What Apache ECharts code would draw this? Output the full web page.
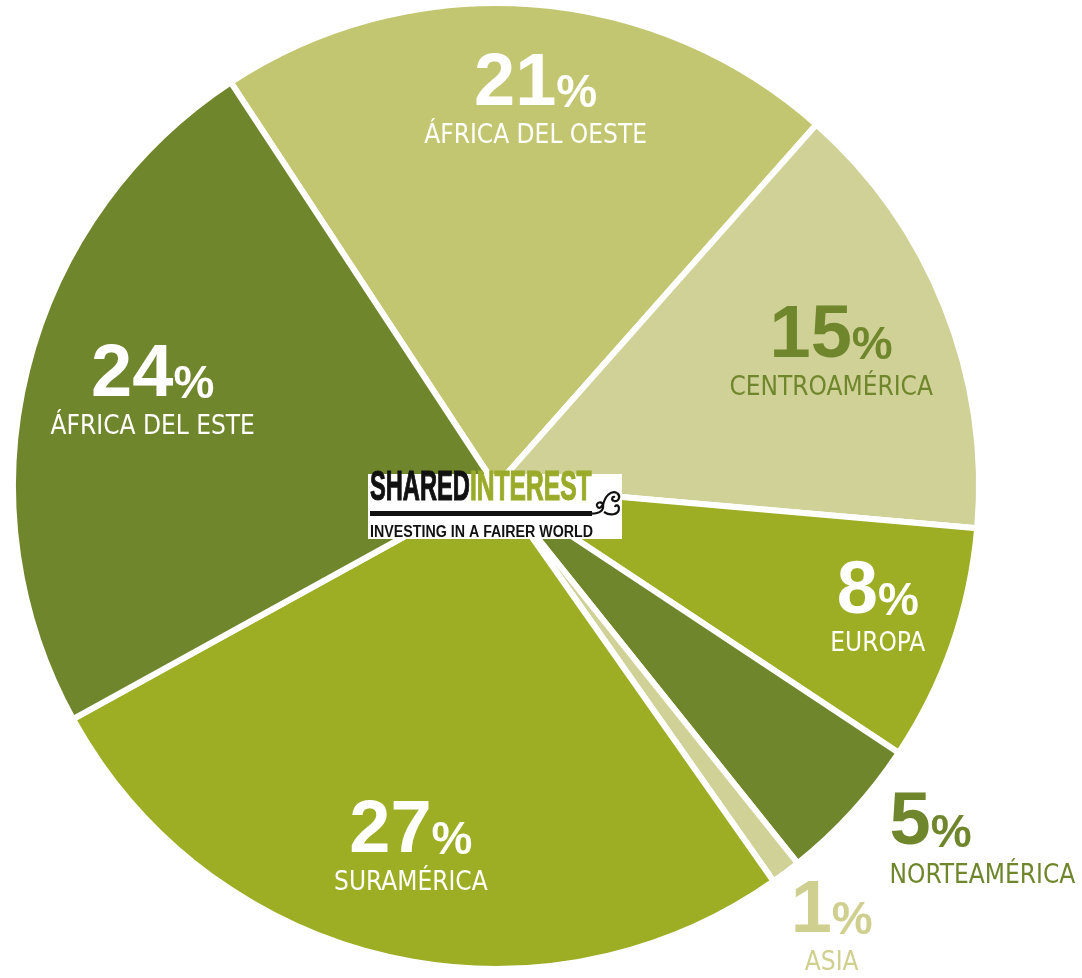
<!DOCTYPE html>
<html>
<head>
<meta charset="utf-8">
<script src="https://cdn.jsdelivr.net/npm/echarts@6/dist/echarts.min.js"></script>
<style>
html,body{margin:0;padding:0;background:#ffffff;}
#chart{width:1082px;height:978px;}
</style>
</head>
<body>
<div id="chart"></div>
<script>
// ---- data (clockwise from the top-left boundary) ----
const regions = ['ÁFRICA DEL OESTE', 'CENTROAMÉRICA', 'EUROPA', 'NORTEAMÉRICA', 'ASIA', 'SURAMÉRICA', 'ÁFRICA DEL ESTE'];
const shares = [21, 15, 8, 5, 1, 27, 24];

// ---- styling ----
const NUMFONT = "'Liberation Sans','Arial',sans-serif";
const NAMEFONT = "'DejaVu Sans Condensed','Liberation Sans',sans-serif";
const DARK = '#6f862c', MID = '#9dad24', LIGHT = '#c3c670', PALE = '#d0d196';
const sliceColor = [LIGHT, PALE, MID, DARK, PALE, MID, DARK];
const textColor = ['#ffffff', DARK, '#ffffff', DARK, '#cfd08f', '#ffffff', '#ffffff'];
const leftAligned = [false, false, false, true, false, false, false];
// label shifts away from the default inside position
const labelShift = [[22, -143], [108, -44], [151, 41], [306, 188], [189, 245], [-30, 122], [-106, -37]];

const chart = echarts.init(document.getElementById('chart'), null, {renderer: 'canvas'});

const seriesData = regions.map((name, i) => ({
  name: name,
  value: shares[i],
  itemStyle: {color: sliceColor[i]},
  label: {color: textColor[i]}
}));

function richSet(align) {
  return {
    num: {fontFamily: NUMFONT, fontSize: 74, fontWeight: 'bold', verticalAlign: 'bottom', align: align},
    pct: {fontFamily: NUMFONT, fontSize: 46, fontWeight: 'bold', verticalAlign: 'bottom', padding: [0, 0, 4, 0], align: align},
    name: {fontFamily: NAMEFONT, fontSize: 26, lineHeight: 30, align: align}
  };
}
const rc = richSet('center'), rl = richSet('left');
const rich = {num: rc.num, pct: rc.pct, name: rc.name, numL: rl.num, pctL: rl.pct, nameL: rl.name};

// logo flourish as cubic segments [x1,y1,cx1,cy1,cx2,cy2,x2,y2] (logo-local)
const swirl = [
  [222, 39.5, 232, 40, 236, 36, 235, 31],
  [235, 31, 234, 27, 228, 28, 229, 32],
  [229, 32, 230, 35, 234, 34, 234, 31],
  [235, 31, 237, 22, 243, 16, 249, 19],
  [249, 19, 253, 22, 251, 28, 246, 27],
  [246, 27, 243, 26, 244, 22, 247, 23],
  [236, 38, 242, 42, 250, 41, 251, 35],
  [251, 35, 251, 31, 248, 30, 247, 33]
].map(s => ({
  type: 'bezierCurve', z: 101,
  shape: {x1: s[0], y1: s[1], cpx1: s[2], cpy1: s[3], cpx2: s[4], cpy2: s[5], x2: s[6], y2: s[7]},
  style: {stroke: '#111111', lineWidth: 2.2, fill: null}
}));

const option = {
  backgroundColor: '#ffffff',
  animation: false,
  series: [{
    type: 'pie',
    center: [496, 486],
    radius: [0, 483],
    startAngle: 123.3,
    clockwise: true,
    avoidLabelOverlap: false,
    silent: true,
    itemStyle: {borderColor: '#ffffff', borderWidth: 6},
    label: {
      show: true,
      position: 'inside',
      formatter: p => {
        const s = leftAligned[p.dataIndex] ? 'L' : '';
        return '{num' + s + '|' + shares[p.dataIndex] + '}{pct' + s + '|%}\n{name' + s + '|' + regions[p.dataIndex] + '}';
      },
      rich: rich
    },
    labelLine: {show: false},
    labelLayout: p => ({dx: labelShift[p.dataIndex][0], dy: labelShift[p.dataIndex][1]}),
    data: seriesData
  }],
  graphic: [{
    type: 'group',
    x: 368,
    y: 474,
    z: 100,
    children: [
      {type: 'rect', z: 100, shape: {x: 0, y: 0, width: 254, height: 65}, style: {fill: '#ffffff'}},
      {type: 'text', z: 101, x: 2, y: -7, scaleX: 0.55,
        style: {text: 'SHARED', font: 'bold 43px ' + NUMFONT, fill: '#111111', stroke: '#111111', lineWidth: 1.2, textVerticalAlign: 'top'}},
      {type: 'text', z: 101, x: 102, y: -7, scaleX: 0.572,
        style: {text: 'INTEREST', font: 'bold 43px ' + NUMFONT, fill: '#9aab2a', stroke: '#9aab2a', lineWidth: 1.2, textVerticalAlign: 'top'}},
      {type: 'rect', z: 101, shape: {x: 2, y: 37, width: 222, height: 5}, style: {fill: '#111111'}}
    ].concat(swirl).concat([
      {type: 'text', z: 101, x: 2, y: 51, scaleX: 0.89,
        style: {text: 'INVESTING IN A FAIRER WORLD', font: 'bold 16px ' + NUMFONT, fill: '#111111', textVerticalAlign: 'top'}}
    ])
  }]
};
chart.setOption(option);
</script>
</body>
</html>
